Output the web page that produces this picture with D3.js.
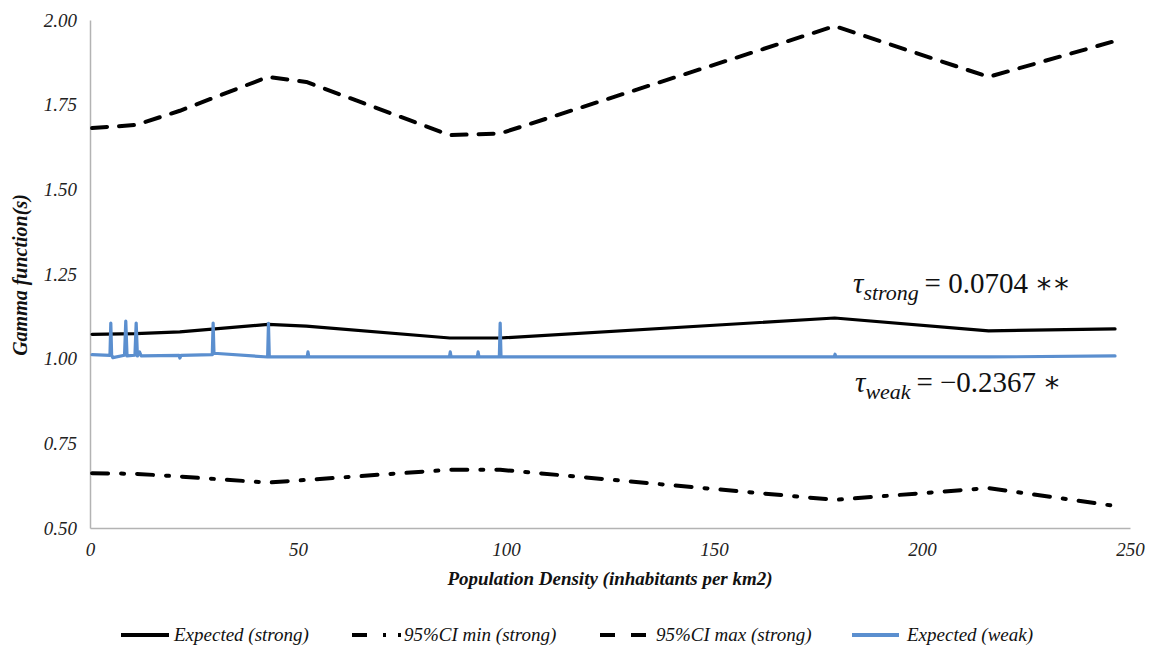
<!DOCTYPE html>
<html>
<head>
<meta charset="utf-8">
<script src="https://cdn.jsdelivr.net/npm/d3@7"></script>
</head>
<body style="margin:0; background:#fff">
<div id="chart"></div>
<script>
const width = 1151;
const height = 653;
const margin = { top: 20, right: 21, bottom: 125, left: 90 };
const serif = '"Liberation Serif", monospace';

// Strong series share the same density values
const strongX = [0.5, 11, 21.6, 42.8, 52, 86.5, 98.6, 179, 216, 246.4];
const strongExpected = [1.072, 1.074, 1.079, 1.101, 1.096, 1.061, 1.061, 1.120, 1.082, 1.088];
const strongCiMin = [0.662, 0.660, 0.652, 0.634, 0.642, 0.672, 0.672, 0.583, 0.618, 0.565];
const strongCiMax = [1.681, 1.690, 1.732, 1.832, 1.817, 1.660, 1.665, 1.982, 1.832, 1.938];

// Weak series (spiky)
const weakX = [0.5, 4.8, 5.0, 5.2, 5.5, 8.3, 8.6, 8.9, 10.8, 11.1, 11.4, 11.9, 12.3,
  21.4, 21.6, 21.9, 29.4, 29.6, 29.8, 42.7, 42.9, 43.1, 52.2, 52.4, 52.6,
  86.4, 86.6, 86.8, 93.1, 93.3, 93.5, 98.4, 98.6, 98.8, 178.9, 179.1, 179.3, 216, 246.4];
const weakExpected = [1.012, 1.010, 1.105, 1.010, 1.003, 1.010, 1.111, 1.008, 1.010, 1.105, 1.008, 1.020, 1.008,
  1.010, 1.002, 1.010, 1.012, 1.105, 1.016, 1.005, 1.104, 1.005, 1.005, 1.020, 1.005,
  1.005, 1.020, 1.005, 1.005, 1.020, 1.005, 1.005, 1.105, 1.005, 1.005, 1.013, 1.005, 1.005, 1.008];

const xTicks = [0, 50, 100, 150, 200, 250];
const yTicks = [0.5, 0.75, 1.0, 1.25, 1.5, 1.75, 2.0];

const series = [
  { name: "Expected (strong)", xs: strongX, ys: strongExpected, color: "#000", w: 3.2, dash: null, legendDash: null },
  { name: "95%CI min (strong)", xs: strongX, ys: strongCiMin, color: "#000", w: 4, dash: "16,13,3,13", legendDash: "15,16,3,12,3,100" },
  { name: "95%CI max (strong)", xs: strongX, ys: strongCiMax, color: "#000", w: 4, dash: "15,12", legendDash: "15,16,15,100" },
  { name: "Expected (weak)", xs: weakX, ys: weakExpected, color: "#5b8fcf", w: 3.2, dash: null, legendDash: null }
];

const svg = d3.select("#chart")
    .append("svg")
    .attr("width", width)
    .attr("height", height);

const x = d3.scaleLinear()
    .domain([0, 250])
    .range([margin.left, width - margin.right]);

const y = d3.scaleLinear()
    .domain([0.5, 2.0])
    .range([height - margin.bottom, margin.top]);

// Axes
const xAxis = svg.append("g")
    .attr("transform", `translate(0,${height - margin.bottom})`)
    .call(d3.axisBottom(x).tickValues(xTicks).tickSize(0).tickPadding(15).tickFormat(d3.format("d")));

const yAxis = svg.append("g")
    .attr("transform", `translate(${margin.left},0)`)
    .call(d3.axisLeft(y).tickValues(yTicks).tickSize(0).tickPadding(13).tickFormat(d3.format(".2f")));

[xAxis, yAxis].forEach(g => {
  g.attr("font-family", serif).attr("font-size", 19);
  g.select(".domain").attr("stroke", "#b3b3b3").attr("stroke-width", 1.5);
  g.selectAll(".tick text")
      .attr("font-family", serif)
      .attr("font-style", "italic")
      .attr("font-size", 19)
      .attr("fill", "#222");
});

// Lines
const line = d3.line()
    .x(d => x(d[0]))
    .y(d => y(d[1]));

series.forEach(s => {
  const pts = s.xs.map((v, i) => [v, s.ys[i]]);
  svg.append("path")
      .datum(pts)
      .attr("fill", "none")
      .attr("stroke", s.color)
      .attr("stroke-width", s.w)
      .attr("stroke-linejoin", "round")
      .attr("stroke-linecap", "round")
      .attr("stroke-dasharray", s.dash)
      .attr("d", line);
});

// Axis titles
function title(sel) {
  return sel.attr("font-family", serif)
      .attr("font-style", "italic")
      .attr("font-weight", "bold")
      .attr("font-size", 19)
      .attr("fill", "#111")
      .attr("text-anchor", "middle");
}
title(svg.append("text").attr("x", (x.range()[0] + x.range()[1]) / 2).attr("y", 585))
    .text("Population Density (inhabitants per km2)");

title(svg.append("text").attr("font-size", 20).attr("transform", "translate(27,275) rotate(-90)"))
    .attr("font-size", 20)
    .text("Gamma function(s)");

// Kendall tau annotations
function tau(xPos, yPos, sub, value) {
  const t = svg.append("text")
      .attr("x", xPos).attr("y", yPos)
      .attr("font-family", serif)
      .attr("font-size", 29)
      .attr("fill", "#111");
  t.append("tspan").attr("font-style", "italic").text("τ");
  t.append("tspan").attr("font-style", "italic").attr("font-size", 22).attr("dy", 7).text(sub);
  t.append("tspan").attr("dy", -7).text("\u2009= " + value);
}
tau(853, 293, "strong", "0.0704 ∗∗");
tau(855, 392, "weak", "−0.2367 ∗");

// Legend
const legendItems = [
  { s: series[0], x0: 121, x1: 169, tx: 174 },
  { s: series[1], x0: 352, x1: 402, tx: 404 },
  { s: series[2], x0: 600, x1: 646, tx: 656 },
  { s: series[3], x0: 852, x1: 899, tx: 907 }
];
const legend = svg.append("g");
legendItems.forEach(d => {
  legend.append("line")
      .attr("x1", d.x0).attr("x2", d.x1)
      .attr("y1", 635).attr("y2", 635)
      .attr("stroke", d.s.color)
      .attr("stroke-width", 4)
      .attr("stroke-dasharray", d.s.legendDash);
  legend.append("text")
      .attr("x", d.tx)
      .attr("y", 641)
      .attr("font-family", serif)
      .attr("font-style", "italic")
      .attr("font-size", 19)
      .attr("fill", "#111")
      .text(d.s.name);
});
</script>
</body>
</html>
